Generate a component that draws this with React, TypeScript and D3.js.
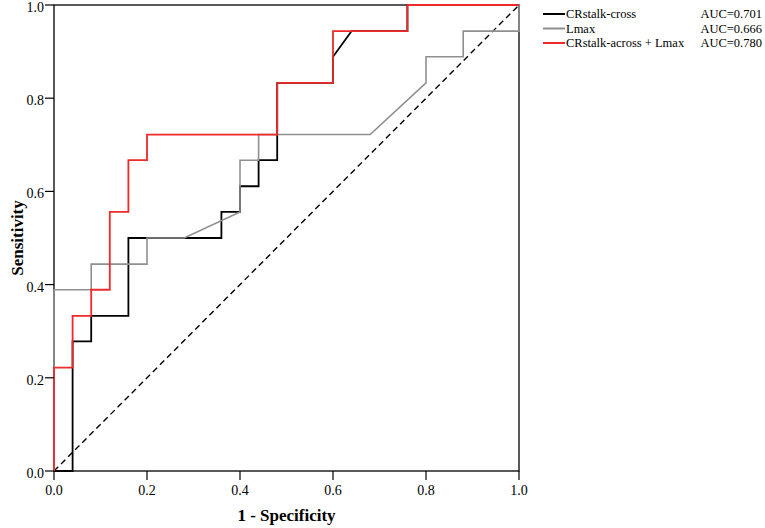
import React from 'react';
import * as d3 from 'd3';

// ROC points (1 - specificity, sensitivity)
const crossFpr = [0, 0.04, 0.04, 0.08, 0.08, 0.16, 0.16, 0.36, 0.36, 0.40, 0.40, 0.44, 0.44, 0.48, 0.48, 0.60, 0.60, 0.64, 0.76, 0.76, 1];
const crossTpr = [0, 0, 0.278, 0.278, 0.333, 0.333, 0.5, 0.5, 0.556, 0.556, 0.611, 0.611, 0.667, 0.667, 0.833, 0.833, 0.889, 0.944, 0.944, 1, 1];

const lmaxFpr = [0, 0, 0.08, 0.08, 0.20, 0.20, 0.28, 0.40, 0.40, 0.44, 0.44, 0.68, 0.80, 0.80, 0.88, 0.88, 1, 1];
const lmaxTpr = [0, 0.389, 0.389, 0.444, 0.444, 0.5, 0.5, 0.556, 0.667, 0.667, 0.722, 0.722, 0.833, 0.889, 0.889, 0.944, 0.944, 1];

const comboFpr = [0, 0, 0.04, 0.04, 0.08, 0.08, 0.12, 0.12, 0.16, 0.16, 0.20, 0.20, 0.48, 0.48, 0.60, 0.60, 0.76, 0.76, 1];
const comboTpr = [0, 0.222, 0.222, 0.333, 0.333, 0.389, 0.389, 0.556, 0.556, 0.667, 0.667, 0.722, 0.722, 0.833, 0.833, 0.944, 0.944, 1, 1];

const seriesNames = ['CRstalk-cross', 'Lmax', 'CRstalk-across + Lmax'];
const seriesAuc = ['AUC=0.701', 'AUC=0.666', 'AUC=0.780'];
const seriesColors = ['#000000', '#8f8f8f', '#ee2a2a'];
const tickValues = [0, 0.2, 0.4, 0.6, 0.8, 1.0];

const W = 765;
const H = 528;
const margin = { left: 54, right: 246, top: 5, bottom: 57 };

const App: React.FC = () => {
  const x = d3.scaleLinear().domain([0, 1]).range([margin.left, W - margin.right]);
  const y = d3.scaleLinear().domain([0, 1]).range([H - margin.bottom, margin.top]);

  const line = d3.line<[number, number]>()
    .x(d => x(d[0]))
    .y(d => y(d[1]));

  const zip = (a: number[], b: number[]) => a.map((v, i) => [v, b[i]] as [number, number]);
  const series = [
    zip(crossFpr, crossTpr),
    zip(lmaxFpr, lmaxTpr),
    zip(comboFpr, comboTpr),
  ];
  const fmt = d3.format('.1f');
  const font = '"Liberation Serif", "Times New Roman", serif';

  return (
    <svg width={W} height={H} style={{ position: 'absolute', left: 0, top: 0, background: '#fff' }} fontFamily={font}>
      {/* frame */}
      <rect x={x(0)} y={y(1)} width={x(1) - x(0)} height={y(0) - y(1)} fill="none" stroke="#000" strokeWidth={1.3} />

      {/* reference diagonal */}
      <line x1={x(0)} y1={y(0)} x2={x(1)} y2={y(1)} stroke="#000" strokeWidth={1.4} strokeDasharray="6,4" />

      {/* curves: black, gray, red on top */}
      {series.map((d, i) => (
        <path key={i} d={line(d) || ''} fill="none" stroke={seriesColors[i]} strokeWidth={i === 1 ? 1.6 : 1.8} />
      ))}

      {/* y axis */}
      {tickValues.map(t => (
        <g key={'y' + t}>
          <line x1={x(0) - 9} x2={x(0)} y1={y(t)} y2={y(t)} stroke="#000" strokeWidth={1.2} />
          <text x={x(0) - 10} y={y(t) + 2} dy="0.35em" textAnchor="end" fontSize={14}>{fmt(t)}</text>
        </g>
      ))}

      {/* x axis */}
      {tickValues.map(t => (
        <g key={'x' + t}>
          <line x1={x(t)} x2={x(t)} y1={y(0)} y2={y(0) + 9} stroke="#000" strokeWidth={1.2} />
          <text x={x(t)} y={y(0) + 24} textAnchor="middle" fontSize={14}>{fmt(t)}</text>
        </g>
      ))}

      <text x={(x(0) + x(1)) / 2} y={521} textAnchor="middle" fontSize={17} fontWeight="bold">1 - Specificity</text>
      <text transform={`translate(23,${(y(0) + y(1)) / 2}) rotate(-90)`} textAnchor="middle" fontSize={17} fontWeight="bold">Sensitivity</text>

      {/* legend */}
      {seriesNames.map((name, i) => (
        <g key={name} transform={`translate(543,${14 + i * 14.5})`}>
          <line x1={0} x2={22} y1={0} y2={0} stroke={seriesColors[i]} strokeWidth={2} />
          <text x={23} y={0} dy="0.35em" fontSize={12.5}>{name}</text>
          <text x={219} y={0} dy="0.35em" textAnchor="end" fontSize={12.5}>{seriesAuc[i]}</text>
        </g>
      ))}
    </svg>
  );
};

export default App;
